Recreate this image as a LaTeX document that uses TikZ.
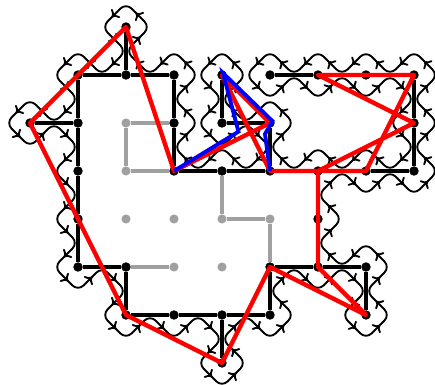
\documentclass[tikz,border=0pt]{standalone}
\usetikzlibrary{decorations.markings,arrows.meta}
\definecolor{ltgrey}{RGB}{160,160,160}
\begin{document}
\begin{tikzpicture}[x=1cm,y=-1cm,
  bdot/.style={circle,fill=black,inner sep=0pt,minimum size=5.6pt},
  gdot/.style={circle,fill=ltgrey,inner sep=0pt,minimum size=5.4pt},
  bedge/.style={line width=2pt,black},
  gedge/.style={line width=2pt,ltgrey},
  tour/.style={line width=1.1pt,rounded corners=4.6pt,line join=round,
    postaction={decorate},
    decoration={markings,
      mark=between positions 0 and 0.999 step 0.0096153846 with {\arrow[xshift=1.8pt]{To[length=3.6pt,width=7.2pt]}}}},
  redpath/.style={line width=2.6pt,red,line join=round},
  bluepath/.style={line width=2.3pt,blue,line join=miter}
]
\useasboundingbox (-0.625,-0.5625) rectangle (8.4375,7.4583);

% grey (interior) vertices
\foreach \i/\j in {2/2,2/3,2/4,3/4,4/4,5/4,3/5,4/5}
  \node[gdot] (g\i\j) at (\i,\j) {};
% black vertices
\foreach \i/\j in {2/0,1/1,2/1,3/1,4/1,5/1,6/1,7/1,8/1,0/2,1/2,3/2,4/2,5/2,8/2,
  1/3,3/3,4/3,5/3,6/3,7/3,8/3,1/4,6/4,1/5,2/5,5/5,6/5,7/5,2/6,3/6,4/6,5/6,7/6,4/7}
  \node[bdot] (b\i\j) at (\i,\j) {};

% grey edges
\draw[gedge] (g22) -- (b32);
\draw[gedge] (g22) -- (g23);
\draw[gedge] (g23) -- (b33);
\draw[gedge] (b43) -- (g44);
\draw[gedge] (g44) -- (g54);
\draw[gedge] (g54) -- (b55);
\draw[gedge] (b25) -- (g35);

% black edges
\foreach \a/\b in {11/21,21/31,31/32,32/33,33/43,43/53,53/63,63/64,64/65,65/55,55/56,
  56/46,46/36,36/26,26/25,25/15,15/14,14/13,13/12,12/11,
  20/21,02/12,41/42,42/52,52/53,63/73,73/83,83/82,82/81,81/71,71/61,61/51,
  65/75,75/76,46/47}
  \draw[bedge] (b\a) -- (b\b);

% the tour around the structure
\draw[tour] (2.25,0.25) -- (2.5,0) -- (2,-0.5) -- (1.5,0) -- (2,0.5) -- (1.5,1)
 -- (1,0.5) -- (0.5,1) -- (1,1.5) -- (0.5,2) -- (0,1.5) -- (-0.5,2) -- (0,2.5)
 -- (0.5,2) -- (1,2.5) -- (0.5,3) -- (1,3.5) -- (0.5,4) -- (1,4.5) -- (0.5,5)
 -- (1,5.5) -- (1.5,5) -- (2,5.5) -- (1.5,6) -- (2,6.5) -- (2.5,6) -- (3,6.5)
 -- (3.5,6) -- (4,6.5) -- (3.5,7) -- (4,7.5) -- (4.5,7) -- (4,6.5) -- (4.5,6)
 -- (5,6.5) -- (5.5,6) -- (5,5.5) -- (5.5,5) -- (6,5.5) -- (6.5,5) -- (7,5.5)
 -- (6.5,6) -- (7,6.5) -- (7.5,6) -- (7,5.5) -- (7.5,5) -- (7,4.5) -- (6.5,5)
 -- (6,4.5) -- (6.5,4) -- (6,3.5) -- (6.5,3) -- (7,3.5) -- (7.5,3) -- (8,3.5)
 -- (8.5,3) -- (8,2.5) -- (8.5,2) -- (8,1.5) -- (8.5,1) -- (8,0.5) -- (7.5,1)
 -- (7,0.5) -- (6.5,1) -- (6,0.5) -- (5.5,1) -- (5,0.5) -- (4.5,1) -- (5,1.5)
 -- (5.5,1) -- (6,1.5) -- (6.5,1) -- (7,1.5) -- (7.5,1) -- (8,1.5) -- (7.5,2)
 -- (8,2.5) -- (7.5,3) -- (7,2.5) -- (6.5,3) -- (6,2.5) -- (5.5,3) -- (5,2.5)
 -- (5.5,2) -- (5,1.5) -- (4.5,2) -- (4,1.5) -- (4.5,1) -- (4,0.5) -- (3.5,1)
 -- (4,1.5) -- (3.5,2) -- (4,2.5) -- (4.5,2) -- (5,2.5) -- (4.5,3) -- (4,2.5)
 -- (3.5,3) -- (3,2.5) -- (3.5,2) -- (3,1.5) -- (3.5,1) -- (3,0.5) -- (2.5,1)
 -- (2,0.5) -- (2.25,0.25);

% red loop
\draw[redpath] (b63.center) -- (b82.center) -- (b61.center) -- (b81.center)
 -- (b73.center) -- (b63.center) -- (b65.center) -- (b76.center) -- (b55.center)
 -- (b47.center) -- (b26.center) -- (b02.center) -- (b20.center) -- (b33.center)
 -- (b52.center) -- (b41.center) -- (b53.center) -- cycle;

% blue loop (slightly offset beside the red on the shared stretch)
\coordinate (bl1) at (4.344,2.18);
\coordinate (bl2) at (4.896,2.23);
\coordinate (bl3) at (4.02,0.96);
\coordinate (bl4) at (5.05,1.96);
\draw[bluepath] (b33.center) -- (bl1) -- (bl3) -- (bl4) -- (bl2) -- (b53.center);
\end{tikzpicture}
\end{document}
